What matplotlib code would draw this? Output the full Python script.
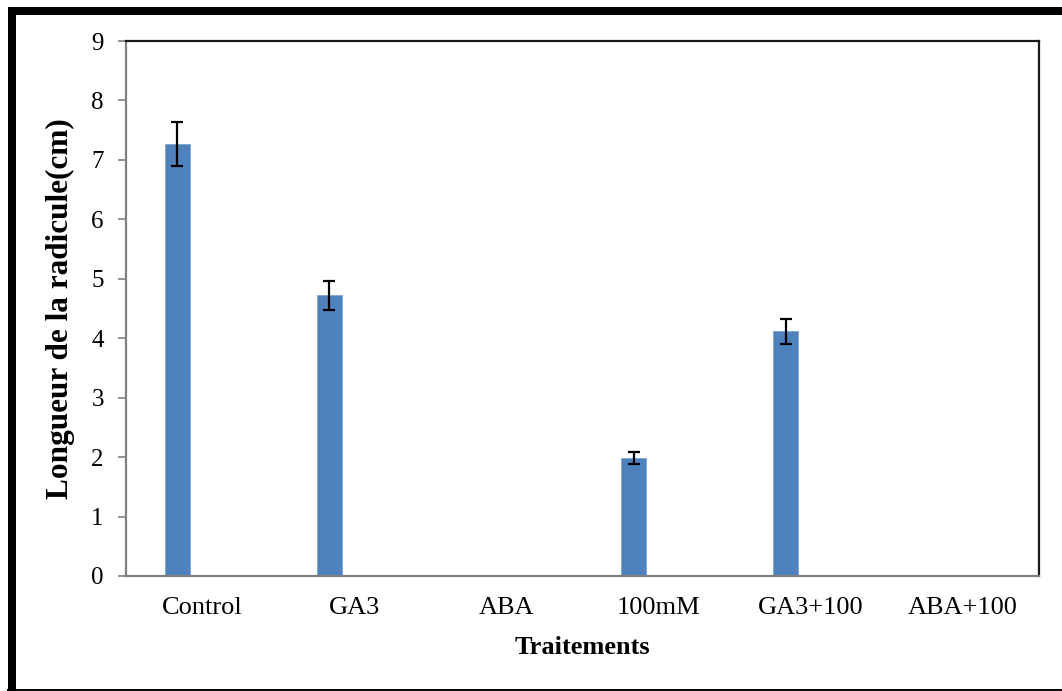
import matplotlib
matplotlib.use("Agg")
import matplotlib.pyplot as plt
from matplotlib.patches import Rectangle
from matplotlib.lines import Line2D
import numpy as np

categories = ["Control", "GA3", "ABA", "100mM", "GA3+100", "ABA+100"]
values = [7.27, 4.72, 0.0, 1.98, 4.12, 0.0]
errors = [0.37, 0.24, 0.0, 0.10, 0.21, 0.0]
yticks = [0, 1, 2, 3, 4, 5, 6, 7, 8, 9]

plt.rcParams['font.family'] = ['Liberation Serif', 'DejaVu Serif']

W, H = 1062, 691
fig = plt.figure(figsize=(W / 100, H / 100), dpi=100)
fig.patch.set_facecolor("white")

ax = fig.add_axes([126 / W, 1 - 576 / H, (1039 - 126) / W, (576 - 41) / H])

x = np.arange(len(categories))
bw = 0.164
offset = -0.164
xs = x + offset
has = [v > 0 for v in values]
ax.bar(xs, values, width=bw, color="#4F81BD", edgecolor="#7fa3d3", linewidth=0.6, zorder=2)
ex = [xi for xi, h in zip(xs, has) if h]
ey = [v for v, h in zip(values, has) if h]
ee = [e for e, h in zip(errors, has) if h]
ax.errorbar(ex, ey, yerr=ee, fmt="none", ecolor="black", elinewidth=1.6,
            capsize=4.3, capthick=1.6, zorder=3)

ax.set_xlim(-0.5, len(categories) - 0.5)
ax.set_ylim(0, 9)
ax.set_yticks(yticks)
ax.set_yticklabels([str(t) for t in yticks])
ax.set_xticks(x)
ax.set_xticklabels(categories)

ax.tick_params(axis="y", direction="out", length=6, width=1.2, color="#808080",
               labelsize=18, pad=10)
ax.tick_params(axis="x", length=0, labelsize=19, pad=15)

for s in ["left", "bottom"]:
    ax.spines[s].set_color("#808080")
    ax.spines[s].set_linewidth(1.6)
for s in ["top", "right"]:
    ax.spines[s].set_color("#1a1a1a")
    ax.spines[s].set_linewidth(1.6)

ax.set_ylabel("Longueur de la radicule(cm)", fontsize=22.5, fontweight="bold", labelpad=12)
ax.set_xlabel("Traitements", fontsize=19, fontweight="bold", labelpad=12)

# figure frame
fig.add_artist(Rectangle((8 / W, 0), 8 / W, (691 - 7) / H, transform=fig.transFigure,
                         facecolor="black", edgecolor="none"))
fig.add_artist(Rectangle((8 / W, 1 - 15 / H), (W - 8) / W, 8 / H, transform=fig.transFigure,
                         facecolor="black", edgecolor="none"))
fig.add_artist(Line2D([8 / W, 1], [1.5 / H, 1.5 / H], transform=fig.transFigure,
                      color="black", linewidth=1.4))

fig.savefig("out.png", dpi=100, facecolor="white")
